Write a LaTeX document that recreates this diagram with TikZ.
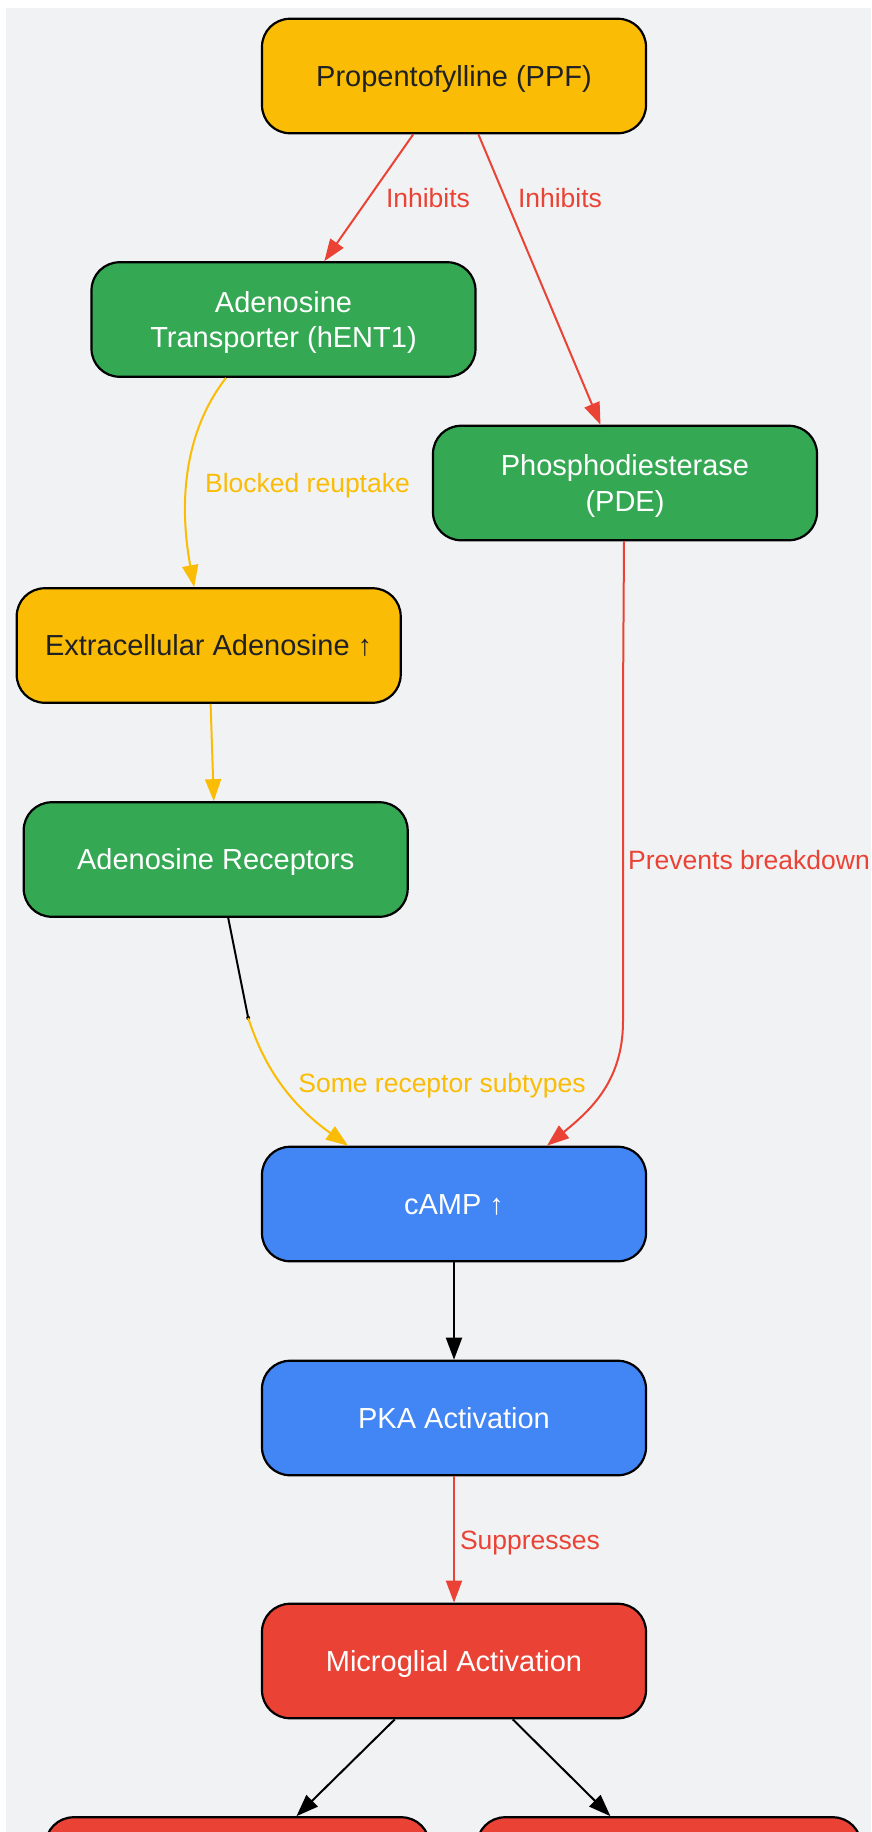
\documentclass[tikz,border=0pt]{standalone}
\usepackage{fontspec}
\setmainfont{Liberation Sans}
\usetikzlibrary{arrows.meta,calc}
\definecolor{bg}{HTML}{F1F2F4}
\definecolor{gYellow}{HTML}{FBBC05}
\definecolor{gGreen}{HTML}{34A853}
\definecolor{gBlue}{HTML}{4285F4}
\definecolor{gRed}{HTML}{EA4335}
\definecolor{darktext}{HTML}{202124}
\begin{document}
\begin{tikzpicture}[x=1pt,y=-1pt,
  box/.style={draw=black, line width=2.2pt, rounded corners=28pt, minimum width=384pt, minimum height=114.5pt, align=center, inner sep=0pt, font=\fontsize{29}{35.5}\selectfont, text height=24pt, text depth=3.2pt},
  twoline/.style={text height=62pt, text depth=6pt},
  ybox/.style={box, fill=gYellow, text=darktext},
  gbox/.style={box, fill=gGreen, text=white},
  bbox/.style={box, fill=gBlue, text=white},
  rbox/.style={box, fill=gRed, text=white},
  tip/.style={-{Triangle[length=22pt,width=16pt]}},
  redE/.style={draw=gRed, line width=2pt, tip},
  yelE/.style={draw=gYellow, line width=2pt, tip},
  blkE/.style={draw=black, line width=2pt, tip},
  lbl/.style={inner sep=0pt, font=\fontsize{26.5}{32}\selectfont, text height=22pt, text depth=3pt}
]
\useasboundingbox (0,0) rectangle (871,1832);
\fill[bg] (6,8) rectangle (871,1832);
\begin{scope}
\clip (0,0) rectangle (871,1832);
\node[ybox] (ppf) at (454,76) {Propentofylline (PPF)};
\node[gbox, twoline] (hent) at (283.5,319.5) {Adenosine\\Transporter (hENT1)};
\node[gbox, twoline] (pde) at (625,483) {Phosphodiesterase\\(PDE)};
\node[ybox] (extra) at (208.7,645.5) {Extracellular Adenosine ↑};
\node[gbox] (adrec) at (215.7,859.5) {Adenosine Receptors};
\node[bbox] (camp) at (454,1204) {cAMP ↑};
\node[bbox] (pka) at (454,1418) {PKA Activation};
\node[rbox] (micro) at (454,1661) {Microglial Activation};
\node[rbox] (outl) at (237.5,1874.5) {};
\node[rbox] (outr) at (669,1874.5) {};

\draw[redE] (ppf) -- (hent);
\draw[redE] (ppf) -- (pde);
\draw[yelE] ($(hent.south)+(-57.5,0)$) .. controls +(-41,53) and +(-16,-87) .. ($(extra.north)+(-14.5,0)$);
\draw[yelE] (extra) -- (adrec);
\coordinate (j) at ($(adrec.south)+(32.5,100)$);
\draw[black, line width=2pt] ($(adrec.south)+(12.5,0)$) -- (j);
\fill[black] (j) circle (2pt);
\draw[yelE] (j) .. controls +(14,43) and +(-63,-45) .. ($(camp.north)+(-106,0)$);
\draw[redE] ($(pde.south)+(-1,0)$) -- ($(pde.south)+(-2,160)$) -- ($(pde.south)+(-2,480)$) .. controls +(0,60) and +(43,-35) .. ($(camp.north)+(93,0)$);
\draw[blkE] (camp) -- (pka);
\draw[redE] (pka) -- (micro);
\draw[blkE] (micro) -- (outl);
\draw[blkE] (micro) -- (outr);

\node[lbl, text=gRed] (l1) at (428,198) {Inhibits};
\node[lbl, text=gRed] (l2) at (560,198) {Inhibits};
\node[lbl, text=gYellow] (l3) at (307.5,483) {Blocked reuptake};
\node[lbl, text=gRed] (l4) at (749,860) {Prevents breakdown};
\node[lbl, text=gYellow] (l5) at (442,1083) {Some receptor subtypes};
\node[lbl, text=gRed] (l6) at (530,1540) {Suppresses};
\end{scope}
\end{tikzpicture}
\end{document}
